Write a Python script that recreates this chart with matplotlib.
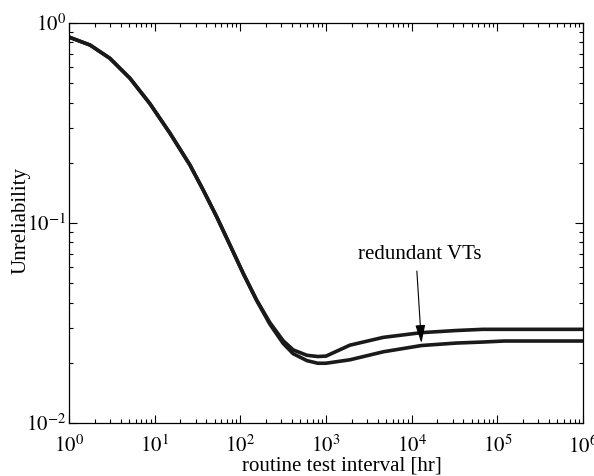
import numpy as np
import matplotlib
matplotlib.use("Agg")
import matplotlib.pyplot as plt
from matplotlib.ticker import LogLocator, NullFormatter

plt.rcParams["font.family"] = ["Liberation Serif", "DejaVu Serif"]
plt.rcParams["mathtext.fontset"] = "stix"

# routine test interval [hr]
interval = [1, 1.76, 3.0, 5.15, 8.8, 15.1, 25.8, 36.9, 52.9, 75.7, 108, 155,
            221, 316, 414, 600, 800, 1000, 1900, 4660, 1.3e4, 3.3e4, 6.8e4,
            1.2e5, 1e6]
unrel_upper = [0.85, 0.776, 0.666, 0.529, 0.395, 0.281, 0.195, 0.146, 0.1075,
               0.0776, 0.056, 0.0412, 0.0318, 0.0258, 0.0232, 0.0218, 0.0215,
               0.0216, 0.0245, 0.0268, 0.0283, 0.029, 0.0294, 0.0294, 0.0294]
unrel_lower = [0.85, 0.776, 0.666, 0.529, 0.395, 0.281, 0.195, 0.146, 0.1075,
               0.0776, 0.056, 0.0410, 0.0312, 0.0250, 0.0222, 0.0205, 0.0199,
               0.0199, 0.0207, 0.0227, 0.0244, 0.0251, 0.0254, 0.0257, 0.0257]

fig = plt.figure(figsize=(5.94, 4.76), dpi=100)
ax = fig.add_axes([69 / 594, 1 - 423 / 476, 514 / 594, 400 / 476])

ax.plot(interval, unrel_upper, color="#1a1a1a", lw=2.6, solid_capstyle="butt")
ax.plot(interval, unrel_lower, color="#1a1a1a", lw=2.6, solid_capstyle="butt")

ax.set_xscale("log")
ax.set_yscale("log")

ax.set_xticks([10.0 ** e for e in range(0, 7)])
ax.set_xticklabels([r"$10^{%d}$" % e for e in range(0, 7)])
ax.set_yticks([1e-2, 1e-1, 1])
ax.set_yticklabels([r"$10^{-2}$", r"$10^{-1}$", r"$10^{0}$"])
ax.xaxis.set_minor_locator(LogLocator(base=10, subs=np.arange(2, 10), numticks=20))
ax.yaxis.set_minor_locator(LogLocator(base=10, subs=np.arange(2, 10), numticks=20))
ax.xaxis.set_minor_formatter(NullFormatter())
ax.yaxis.set_minor_formatter(NullFormatter())
ax.set_xlim(1, 1e6)
ax.set_ylim(1e-2, 1)

ax.tick_params(which="both", direction="in", top=True, right=True, width=0.8)
ax.tick_params(which="major", length=6)
ax.tick_params(which="minor", length=3)
ax.tick_params(axis="x", which="major", labelsize=15, pad=9)
ax.tick_params(axis="y", which="major", labelsize=15, pad=2)
for s in ax.spines.values():
    s.set_linewidth(0.9)

ax.set_xlabel("routine test interval [hr]", fontsize=15)
ax.xaxis.set_label_coords(0.531, -0.085)
ax.set_ylabel("Unreliability", fontsize=15)
ax.yaxis.set_label_coords(-0.074, 0.507)

ax.text(1.25e4, 0.0692, "redundant VTs", ha="center", va="center", fontsize=15)
ax.annotate("", xy=(1.3e4, 0.0251), xytext=(1.15e4, 0.0575),
            arrowprops=dict(arrowstyle="-|>,head_length=1.1,head_width=0.3",
                            lw=0.8, color="black", shrinkA=0, shrinkB=0))

fig.savefig("out.png", dpi=100)
